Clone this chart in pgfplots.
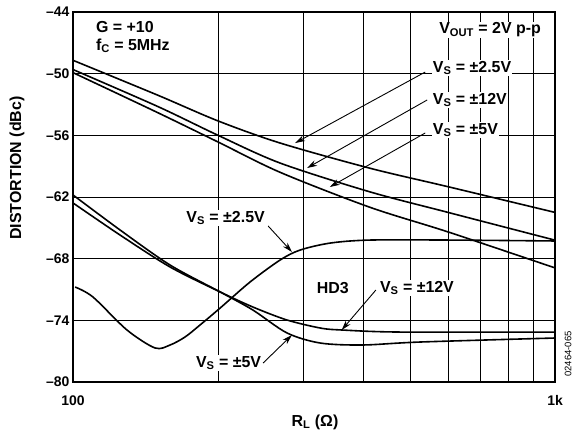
\documentclass[border=0pt]{standalone}
\usepackage{pgfplots}
\pgfplotsset{compat=1.18}
\usepackage{fontspec}
\setmainfont{Liberation Sans}
\usetikzlibrary{arrows.meta}

% HD2 curves
\pgfplotstableread{
R     v
100  -48.7
150  -52.1
200  -54.6
269  -56.75
413  -59.2
600  -61.0
1000 -63.5
}\hdtwoA
\pgfplotstableread{
R     v
100  -49.6
150  -53.2
200  -56.0
269  -58.7
413  -61.5
600  -63.5
1000 -66.2
}\hdtwoB
\pgfplotstableread{
R     v
100  -49.9
150  -53.8
200  -56.65
269  -59.6
413  -63.0
600  -65.4
1000 -68.9
}\hdtwoC
% HD3 curves
\pgfplotstableread{
R     v
101  -70.76
110  -71.73
129.4 -74.94
148  -76.69
159  -76.40
170.8 -75.62
183.5 -74.45
202  -72.80
233  -70.27
269  -68.13
296  -67.16
342  -66.48
413  -66.19
606  -66.19
1000 -66.28
}\hdthreeD
\pgfplotstableread{
R     v
100  -62.58
125.2 -65.70
159  -68.81
202  -71.24
236  -72.70
278  -73.97
326  -74.75
361  -74.94
476  -75.14
1000 -75.14
}\hdthreeE
\pgfplotstableread{
R     v
100  -61.80
125.2 -65.21
159  -68.62
202  -71.24
236  -72.99
278  -75.23
326  -76.21
399  -76.40
525  -76.11
1000 -75.72
}\hdthreeF

\begin{document}
\begin{tikzpicture}
\useasboundingbox (-73bp,-52bp) rectangle (500bp,382bp);
\begin{axis}[
  at={(0,0)}, anchor=south west,
  scale only axis, width=482bp, height=370bp,
  xmode=log, xmin=100, xmax=1000, ymin=-80, ymax=-44,
  xtick={100,1000}, xticklabels={100,1k},
  minor xtick={200,300,400,500,600,700,800,900},
  ytick={-80,-74,-68,-62,-56,-50,-44},
  yticklabels={–80,–74,–68,–62,–56,–50,–44},
  grid=both,
  grid style={black, line width=0.7bp},
  minor grid style={black, line width=0.7bp},
  major tick length=0pt, minor tick length=0pt,
  axis line style={line width=1.6bp},
  ticklabel style={font=\fontsize{14}{16}\selectfont\bfseries},
  xticklabel style={yshift=-10bp},
  clip=false,
  curve/.style={black, solid, line width=1.6bp, smooth, mark=none},
]
\addplot[curve] table[x=R,y=v] {\hdtwoA};
\addplot[curve] table[x=R,y=v] {\hdtwoB};
\addplot[curve] table[x=R,y=v] {\hdtwoC};
\addplot[curve] table[x=R,y=v] {\hdthreeD};
\addplot[curve] table[x=R,y=v] {\hdthreeE};
\addplot[curve] table[x=R,y=v] {\hdthreeF};

\tikzset{lbl/.style={font=\fontsize{16}{18}\selectfont\bfseries, inner sep=1bp},
         arr/.style={-{Stealth[length=10bp,width=6bp]}, line width=0.9bp}}

\node[lbl, anchor=west] at (axis cs:111,-45.46) {G = +10};
\node[lbl, anchor=west] at (axis cs:111,-47.3) {f\textsubscript{C} = 5MHz};
\node[lbl, anchor=east, fill=white] at (axis cs:940,-45.75) {V\textsubscript{OUT} = 2V p-p};

\draw[arr] (axis cs:538,-49.84) -- (axis cs:289,-56.75);
\draw[arr] (axis cs:543,-52.56) -- (axis cs:306,-59.18);
\draw[arr] (axis cs:538,-55.77) -- (axis cs:341,-61.03);
\node[lbl, anchor=west, fill=white] at (axis cs:555,-49.45) {V\textsubscript{S} = ±2.5V};
\node[lbl, anchor=west, fill=white] at (axis cs:555,-52.56) {V\textsubscript{S} = ±12V};
\node[lbl, anchor=west, fill=white] at (axis cs:555,-55.5) {V\textsubscript{S} = ±5V};

\draw[arr] (axis cs:254,-64.82) -- (axis cs:284.6,-67.35);
\draw[arr] (axis cs:425,-71.05) -- (axis cs:361,-74.94);
\draw[arr] (axis cs:248,-78.15) -- (axis cs:284.6,-75.43);
\node[lbl, anchor=west, fill=white] at (axis cs:171,-64.05) {V\textsubscript{S} = ±2.5V};
\node[lbl, fill=white] at (axis cs:346,-70.85) {HD3};
\node[lbl, anchor=west, fill=white] at (axis cs:431,-70.85) {V\textsubscript{S} = ±12V};
\node[lbl, anchor=west, fill=white] at (axis cs:179,-78.15) {V\textsubscript{S} = ±5V};
\end{axis}
\node[rotate=90, font=\fontsize{16}{18}\selectfont\bfseries] at (-56bp,214bp) {DISTORTION (dBc)};
\node[font=\fontsize{16}{18}\selectfont\bfseries] at (242bp,-40bp) {R\textsubscript{L} (Ω)};
\node[rotate=90, font=\fontsize{9.5}{11}\selectfont] at (495bp,28bp) {02464-065};
\end{tikzpicture}
\end{document}
